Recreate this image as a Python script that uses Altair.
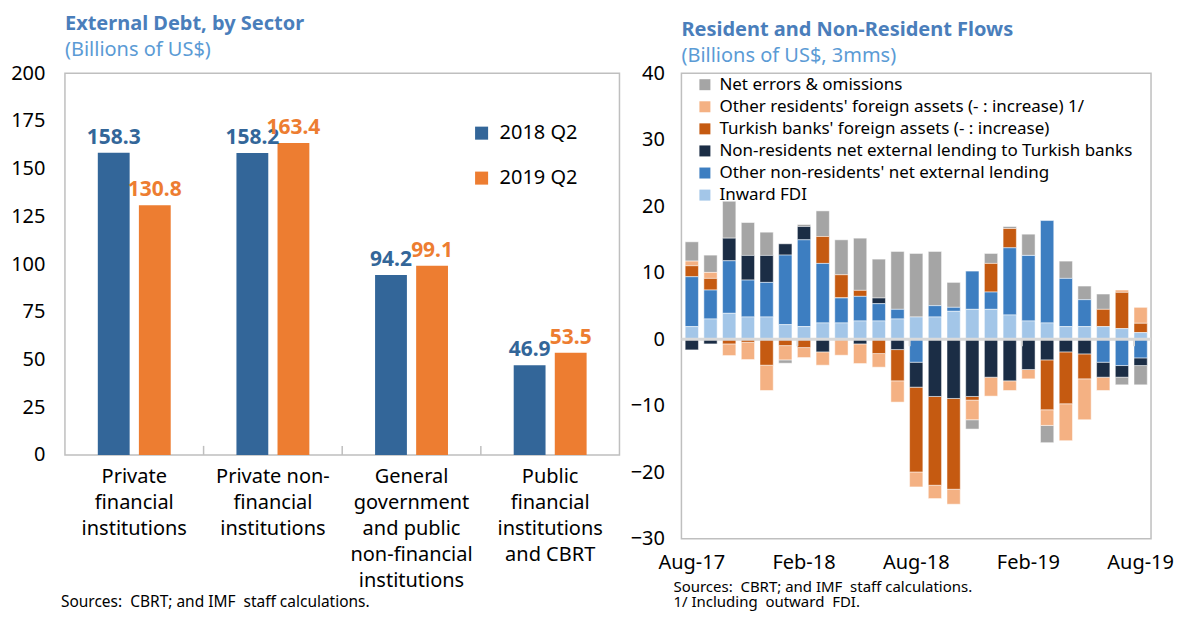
import altair as alt
import pandas as pd

FONT = "Noto Sans"
TITLE_COLOR = "#4A7EBB"
SUB_COLOR = "#5B9BD5"

# ---------------- Left panel data ----------------
sectors = [
    "Private|financial|institutions",
    "Private non-|financial|institutions",
    "General|government|and public|non-financial|institutions",
    "Public|financial|institutions|and CBRT",
]
periods = ["2018 Q2", "2019 Q2"]
debt_2018 = [158.3, 158.2, 94.2, 46.9]
debt_2019 = [130.8, 163.4, 99.1, 53.5]
period_colors = ["#336699", "#ED7D31"]

# ---------------- Right panel data ----------------
months = ["Aug-17", "Sep-17", "Oct-17", "Nov-17", "Dec-17", "Jan-18", "Feb-18",
          "Mar-18", "Apr-18", "May-18", "Jun-18", "Jul-18", "Aug-18", "Sep-18",
          "Oct-18", "Nov-18", "Dec-18", "Jan-19", "Feb-19", "Mar-19", "Apr-19",
          "May-19", "Jun-19", "Jul-19", "Aug-19"]
month_labels = ["Aug-17", "Feb-18", "Aug-18", "Feb-19", "Aug-19"]

inward_fdi = [1.9, 3.05, 3.9, 3.35, 3.35, 2.2, 1.9, 2.45, 2.45, 2.75, 2.75, 3.05, 3.35,
              3.35, 4.2, 4.5, 4.5, 3.65, 2.75, 2.45, 1.9, 1.9, 1.9, 1.6, 1.0]
other_nonres = [7.5, 4.35, 7.9, 5.55, 5.2, 10.45, 13.05, 8.95, 3.75, 3.7, 2.6, 1.45, -3.45,
                1.7, 0.6, 5.75, 2.6, 10.1, 9.85, 15.4, 7.25, 4.05, -3.45, -3.95, -2.8]
nonres_banks = [-1.6, -0.7, 3.4, 3.7, 4.05, 1.7, 2.0, -1.9, 0.0, -0.7, 0.85, -1.55, -3.75,
                -8.6, -8.9, -8.6, -5.7, -6.25, -4.55, -3.1, -1.9, -2.2, -2.25, -1.75, -1.15]
turkish_banks = [1.65, 1.75, -0.7, -0.45, -3.9, -0.95, -1.25, 4.05, 3.5, 0.9, -2.15, -4.7, -12.75,
                 -13.35, -13.65, -0.55, 4.3, 2.9, 0.0, -7.5, -7.8, -3.75, 2.6, 5.45, 1.4]
other_res = [0.7, 0.9, -1.75, -2.6, -3.8, -2.15, -1.5, -2.0, -2.4, -2.95, -2.05, -3.2, -2.25,
             -2.0, -2.25, -2.95, -2.85, -1.45, -1.4, -2.35, -5.55, -6.15, -2.0, 0.35, 2.4]
net_errors = [2.9, 2.6, 5.55, 4.95, 3.5, -0.5, 0.3, 3.85, 5.25, 7.85, 5.85, 8.7, 9.55,
              8.15, 3.75, -1.4, 1.5, 0.3, 3.2, -2.6, 2.6, 2.05, 2.3, -1.15, -2.9]

series_names = [
    "Net errors & omissions",
    "Other residents' foreign assets (- : increase) 1/",
    "Turkish banks' foreign assets (- : increase)",
    "Non-residents net external lending to Turkish banks",
    "Other non-residents' net external lending",
    "Inward FDI",
]
series_values = [net_errors, other_res, turkish_banks, nonres_banks, other_nonres, inward_fdi]
series_colors = ["#A5A5A5", "#F4B183", "#C55A11", "#1B2D45", "#3D7EC1", "#A3C6E8"]

source_text = "Sources:\u00a0 CBRT; and IMF\u00a0 staff calculations."
note_text = "1/ Including\u00a0 outward\u00a0 FDI."

# ---------------- Left panel ----------------
df_left = pd.DataFrame({
    "sector": sectors * 2,
    "period": [periods[0]] * len(sectors) + [periods[1]] * len(sectors),
    "value": debt_2018 + debt_2019,
})
df_sep = pd.DataFrame({"sector": sectors[1:]})

LW, LH = 555, 382
x_left_scale = alt.Scale(domain=sectors, paddingInner=0, paddingOuter=0)
x_left = alt.X("sector:N", scale=x_left_scale, title=None,
               axis=alt.Axis(labelExpr="split(datum.label, '|')", labelAngle=0,
                             ticks=False, domain=False, labelFontSize=20,
                             labelLineHeight=26, labelPadding=12, labelColor="#000000"))
xoff_left = alt.XOffset("period:N", scale=alt.Scale(domain=periods, paddingInner=0.225, paddingOuter=0.8))
y_left = alt.Y("value:Q", scale=alt.Scale(domain=[0, 200]), title=None,
               axis=alt.Axis(values=list(range(0, 201, 25)), grid=False, ticks=False,
                             domain=False, labelFontSize=20, labelPadding=20,
                             labelColor="#000000"))
color_scale_left = alt.Scale(domain=periods, range=period_colors)

bars_left = alt.Chart(df_left).mark_bar().encode(
    x=x_left, xOffset=xoff_left, y=y_left,
    color=alt.Color("period:N", scale=color_scale_left,
                    legend=alt.Legend(orient="none", legendX=407, legendY=50, title=None,
                                      labelFontSize=20, labelFont=FONT, symbolType="square",
                                      symbolSize=170, symbolStrokeWidth=0, rowPadding=25,
                                      labelOffset=8, padding=0, labelColor="#000000")),
)
labels_left = alt.Chart(df_left).mark_text(baseline="bottom", dy=-5, fontWeight="bold",
                                           fontSize=21, font=FONT).encode(
    x=x_left, xOffset=xoff_left, y=y_left,
    text=alt.Text("value:Q", format=".1f"),
    color=alt.Color("period:N", scale=color_scale_left, legend=None),
)
seps_left = alt.Chart(df_sep).mark_rule(color="#BFBFBF", strokeWidth=1.5).encode(
    x=alt.X("sector:N", scale=x_left_scale, bandPosition=0),
    y=alt.value(LH - 9), y2=alt.value(LH),
)
source_left = alt.Chart(pd.DataFrame({"t": [source_text]})).mark_text(
    align="left", baseline="middle", fontSize=15.5, font=FONT, color="#000000").encode(
    text="t:N", x=alt.value(-4), y=alt.value(529))

left = alt.layer(bars_left, labels_left, seps_left, source_left).properties(
    width=LW, height=LH,
    title=alt.TitleParams(text="External Debt, by Sector", subtitle="(Billions of US$)",
                          anchor="start", frame="group", font=FONT, fontSize=20,
                          fontWeight="bold", color=TITLE_COLOR, subtitleFont=FONT,
                          subtitleFontSize=20, subtitleColor=SUB_COLOR, offset=3,
                          subtitlePadding=6),
)

# ---------------- Right panel ----------------
rows = []
n_series = len(series_names)
for i, (name, vals) in enumerate(zip(series_names, series_values)):
    for m, v in zip(months, vals):
        rows.append({"month": m, "series": name, "value": v, "ord": n_series - 1 - i})
df_right = pd.DataFrame(rows)

RW, RH = 470, 466
x_right_scale = alt.Scale(domain=months, paddingInner=0.29, paddingOuter=0.2)
y_right_scale = alt.Scale(domain=[-30, 40])

bars_right = alt.Chart(df_right).mark_bar(stroke="#FFFFFF", strokeWidth=0.5).encode(
    x=alt.X("month:N", scale=x_right_scale, title=None,
            axis=alt.Axis(values=month_labels, ticks=False, domain=False, labelAngle=0,
                          labelFontSize=20, labelPadding=14, labelColor="#000000")),
    y=alt.Y("value:Q", stack="zero", scale=y_right_scale, title=None,
            axis=alt.Axis(values=list(range(-30, 41, 10)), grid=False, ticks=False,
                          domain=False, labelFontSize=20, labelPadding=17,
                          labelColor="#000000")),
    color=alt.Color("series:N", scale=alt.Scale(domain=series_names, range=series_colors),
                    legend=alt.Legend(orient="none", legendX=15, legendY=3, title=None,
                                      labelFontSize=17, labelFont=FONT, symbolType="square",
                                      symbolSize=121, symbolStrokeWidth=0, rowPadding=4.1,
                                      labelOffset=6, padding=0, labelColor="#000000",
                                      labelLimit=600)),
    order=alt.Order("ord:Q", sort="ascending"),
)

zero_line = alt.Chart(pd.DataFrame({"z": [0]})).mark_rule(color="#D9D9D9", strokeWidth=3).encode(
    y=alt.Y("z:Q", scale=y_right_scale))
df_ticks = pd.DataFrame({"month": month_labels[1:], "y0": [0] * 4, "y1": [-1.05] * 4})
ticks_right = alt.Chart(df_ticks).mark_rule(color="#D9D9D9", strokeWidth=2).encode(
    x=alt.X("month:N", scale=x_right_scale, bandPosition=0),
    y=alt.Y("y0:Q", scale=y_right_scale), y2="y1:Q")
source_right1 = alt.Chart(pd.DataFrame({"t": [source_text]})).mark_text(
    align="left", baseline="middle", fontSize=15, font=FONT, color="#000000").encode(
    text="t:N", x=alt.value(-8), y=alt.value(514))
source_right2 = alt.Chart(pd.DataFrame({"t": [note_text]})).mark_text(
    align="left", baseline="middle", fontSize=15, font=FONT, color="#000000").encode(
    text="t:N", x=alt.value(-8), y=alt.value(529.5))

right = alt.layer(bars_right, zero_line, ticks_right, source_right1, source_right2).properties(
    width=RW, height=RH,
    title=alt.TitleParams(text="Resident and Non-Resident Flows", subtitle="(Billions of US$, 3mms)",
                          anchor="start", frame="group", font=FONT, fontSize=20,
                          fontWeight="bold", color=TITLE_COLOR, subtitleFont=FONT,
                          subtitleFontSize=20, subtitleColor=SUB_COLOR, offset=-3,
                          subtitlePadding=6),
)

chart = alt.hconcat(left, right, spacing=8).resolve_scale(
    color="independent"
).resolve_legend(
    color="independent"
).properties(
    padding={"left": 1, "top": 5, "right": 0, "bottom": 0}
).configure_view(
    stroke="#BFBFBF", strokeWidth=1.5
).configure_axis(labelFont=FONT).configure_legend(labelFont=FONT)

chart.save("out.html", embed_options={"renderer": "svg", "actions": False})
